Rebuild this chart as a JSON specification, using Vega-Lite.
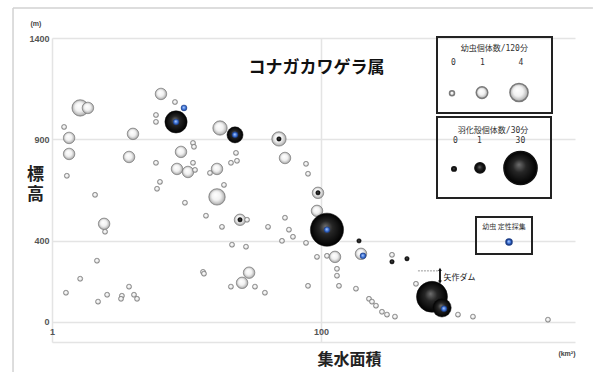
{
  "$schema": "https://vega.github.io/schema/vega-lite/v6.json",
  "width": 523,
  "height": 304,
  "autosize": "none",
  "padding": {"left": 52, "top": 38, "right": 18, "bottom": 30},
  "background": "#ffffff",
  "title": {
    "text": "コナガカワゲラ属",
    "frame": "group",
    "anchor": "middle",
    "offset": -70,
    "dx": 3,
    "font": "Noto Sans CJK JP",
    "fontSize": 17,
    "fontWeight": "bold",
    "color": "#111111"
  },
  "config": {
    "view": {"stroke": null},
    "axis": {
      "labelFont": "Liberation Sans",
      "labelFontSize": 9,
      "labelFontWeight": "bold",
      "labelColor": "#555555",
      "gridColor": "#e4e4e4",
      "gridWidth": 1.5,
      "ticks": false,
      "titleFont": "Noto Sans CJK JP",
      "titleFontWeight": "bold",
      "titleColor": "#222222"
    },
    "legend": {
      "titleFont": "DejaVu Sans Mono, Noto Sans CJK JP",
      "titleFontSize": 8,
      "titleFontWeight": "normal",
      "titleColor": "#333333",
      "titleAnchor": "start",
      "titleAlign": "left",
      "labelOffset": 0,
      "strokeColor": "#222222",
      "strokeWidth": 2
    }
  },
  "datasets": {
    "frame": [
      {"a": 0.513, "a2": 10520, "e": 1548, "e2": 1548},
      {"a": 0.513, "a2": 0.513, "e": 1548, "e2": -250}
    ],
    "larvae": [
      {"a": 1.62, "e": 1055, "n": 3},
      {"a": 1.85, "e": 1055, "n": 1},
      {"a": 6.46, "e": 1124, "n": 1},
      {"a": 8.21, "e": 1084, "n": 0},
      {"a": 5.93, "e": 1020, "n": 0},
      {"a": 5.93, "e": 986, "n": 0},
      {"a": 1.23, "e": 961, "n": 0},
      {"a": 1.34, "e": 907, "n": 1},
      {"a": 4.0, "e": 927, "n": 1},
      {"a": 17.75, "e": 956, "n": 2},
      {"a": 11.18, "e": 882, "n": 0},
      {"a": 11.37, "e": 863, "n": 0},
      {"a": 9.1, "e": 838, "n": 1},
      {"a": 1.34, "e": 828, "n": 1},
      {"a": 3.74, "e": 813, "n": 1},
      {"a": 5.93, "e": 784, "n": 0},
      {"a": 11.18, "e": 784, "n": 0},
      {"a": 8.5, "e": 754, "n": 1},
      {"a": 10.26, "e": 739, "n": 1},
      {"a": 11.57, "e": 749, "n": 0},
      {"a": 16.86, "e": 754, "n": 1},
      {"a": 14.95, "e": 734, "n": 0},
      {"a": 1.29, "e": 720, "n": 0},
      {"a": 6.35, "e": 690, "n": 0},
      {"a": 19.0, "e": 675, "n": 0},
      {"a": 6.04, "e": 656, "n": 0},
      {"a": 2.09, "e": 626, "n": 0},
      {"a": 16.86, "e": 616, "n": 3},
      {"a": 23.34, "e": 833, "n": 0},
      {"a": 21.42, "e": 784, "n": 0},
      {"a": 23.74, "e": 794, "n": 0},
      {"a": 48.7, "e": 902, "n": 2},
      {"a": 54.0, "e": 808, "n": 1},
      {"a": 77.4, "e": 779, "n": 0},
      {"a": 80.1, "e": 730, "n": 0},
      {"a": 95.0, "e": 636, "n": 1},
      {"a": 9.74, "e": 587, "n": 0},
      {"a": 13.96, "e": 523, "n": 0},
      {"a": 18.36, "e": 468, "n": 0},
      {"a": 2.44, "e": 483, "n": 1},
      {"a": 2.48, "e": 444, "n": 0},
      {"a": 2.16, "e": 301, "n": 0},
      {"a": 1.62, "e": 212, "n": 0},
      {"a": 1.27, "e": 143, "n": 0},
      {"a": 2.2, "e": 99, "n": 0},
      {"a": 2.57, "e": 133, "n": 0},
      {"a": 3.74, "e": 173, "n": 0},
      {"a": 3.31, "e": 128, "n": 0},
      {"a": 3.26, "e": 113, "n": 0},
      {"a": 4.07, "e": 133, "n": 0},
      {"a": 4.29, "e": 113, "n": 0},
      {"a": 13.27, "e": 246, "n": 0},
      {"a": 13.49, "e": 237, "n": 0},
      {"a": 25.0, "e": 503, "n": 1},
      {"a": 28.2, "e": 503, "n": 0},
      {"a": 40.4, "e": 468, "n": 0},
      {"a": 54.0, "e": 513, "n": 0},
      {"a": 57.8, "e": 454, "n": 0},
      {"a": 61.9, "e": 419, "n": 0},
      {"a": 51.3, "e": 399, "n": 0},
      {"a": 77.4, "e": 389, "n": 0},
      {"a": 21.8, "e": 380, "n": 0},
      {"a": 27.7, "e": 370, "n": 0},
      {"a": 29.2, "e": 242, "n": 1},
      {"a": 25.9, "e": 192, "n": 1},
      {"a": 21.4, "e": 173, "n": 0},
      {"a": 32.3, "e": 173, "n": 0},
      {"a": 38.3, "e": 143, "n": 0},
      {"a": 93.4, "e": 547, "n": 1},
      {"a": 93.4, "e": 320, "n": 0},
      {"a": 110.8, "e": 325, "n": 0},
      {"a": 127.1, "e": 320, "n": 1},
      {"a": 131.5, "e": 261, "n": 0},
      {"a": 131.5, "e": 227, "n": 0},
      {"a": 198.4, "e": 335, "n": 1},
      {"a": 337.3, "e": 330, "n": 0},
      {"a": 80.1, "e": 177, "n": 0},
      {"a": 136.1, "e": 177, "n": 0},
      {"a": 182.0, "e": 163, "n": 0},
      {"a": 227.5, "e": 113, "n": 0},
      {"a": 239.4, "e": 99, "n": 0},
      {"a": 256.4, "e": 79, "n": 0},
      {"a": 284.1, "e": 49, "n": 0},
      {"a": 309.6, "e": 35, "n": 0},
      {"a": 354.9, "e": 25, "n": 0},
      {"a": 508.5, "e": 187, "n": 0},
      {"a": 1044, "e": 35, "n": 0},
      {"a": 1349, "e": 25, "n": 0},
      {"a": 4872, "e": 10, "n": 0}
    ],
    "exuviae": [
      {"a": 8.36, "e": 986, "n": 10},
      {"a": 22.95, "e": 922, "n": 4},
      {"a": 110.8, "e": 454, "n": 30},
      {"a": 668.9, "e": 123, "n": 25},
      {"a": 793.6, "e": 69, "n": 6},
      {"a": 48.7, "e": 902, "n": 0},
      {"a": 95.0, "e": 636, "n": 0},
      {"a": 25.0, "e": 503, "n": 0},
      {"a": 191.7, "e": 399, "n": 0},
      {"a": 337.3, "e": 296, "n": 0},
      {"a": 435.9, "e": 311, "n": 0}
    ],
    "qualitative": [
      {"a": 9.58, "e": 1055, "kind": "幼虫 定性採集"},
      {"a": 8.36, "e": 986, "kind": "幼虫 定性採集"},
      {"a": 22.95, "e": 922, "kind": "幼虫 定性採集"},
      {"a": 110.8, "e": 454, "kind": "幼虫 定性採集"},
      {"a": 205.3, "e": 325, "kind": "幼虫 定性採集"},
      {"a": 821.3, "e": 64, "kind": "幼虫 定性採集"}
    ],
    "units": [
      {"t": "(m)", "a": 0.76, "e": 1469},
      {"t": "(km²)", "a": 6745, "e": -158}
    ],
    "dam": [
      {"a": 526, "a2": 767, "e": 251}
    ],
    "damArrow": [
      {"a": 767, "e": 256, "e2": 196, "head": "top", "he": 258},
      {"a": 767, "e": 256, "e2": 196, "head": "bottom", "he": 196}
    ],
    "damLabel": [
      {"t": "矢作ダム", "a": 815, "e": 217}
    ]
  },
  "layer": [
    {
      "data": {"name": "frame"},
      "mark": {"type": "rule", "color": "#d2d2d2", "strokeWidth": 1.5},
      "encoding": {
        "x": {
          "field": "a",
          "type": "quantitative",
          "scale": {"type": "log", "domain": [1, 7740], "nice": false},
          "axis": {
            "values": [1, 100],
            "format": "d",
            "grid": true,
            "domain": true,
            "domainColor": "#e4e4e4",
            "domainWidth": 1.5,
            "labelPadding": -15,
            "labelFlush": false,
            "title": "集水面積",
            "titleFontSize": 16,
            "titleX": 297,
            "titleY": 17,
            "titleAlign": "center",
            "titleBaseline": "middle"
          }
        },
        "x2": {"field": "a2"},
        "y": {
          "field": "e",
          "type": "quantitative",
          "scale": {"domain": [-100, 1400], "nice": false, "zero": false},
          "axis": {
            "values": [0, 400, 900, 1400],
            "format": "d",
            "grid": true,
            "domain": false,
            "labelPadding": 3,
            "title": ["標", "高"],
            "titleAngle": 0,
            "titleFontSize": 17,
            "titleLineHeight": 20,
            "titleX": -17,
            "titleY": 136,
            "titleAlign": "center",
            "titleBaseline": "middle"
          }
        },
        "y2": {"field": "e2"}
      }
    },
    {
      "data": {"name": "dam"},
      "mark": {"type": "rule", "color": "#9a9a9a", "strokeWidth": 1, "strokeDash": [2, 1]},
      "encoding": {
        "x": {"field": "a", "type": "quantitative"},
        "x2": {"field": "a2"},
        "y": {"field": "e", "type": "quantitative"}
      }
    },
    {
      "data": {"name": "damArrow"},
      "mark": {"type": "rule", "color": "#111111", "strokeWidth": 1.5},
      "encoding": {
        "x": {"field": "a", "type": "quantitative"},
        "y": {"field": "e", "type": "quantitative"},
        "y2": {"field": "e2"}
      }
    },
    {
      "data": {"name": "damArrow"},
      "mark": {"type": "point", "filled": true, "opacity": 1, "color": "#111111", "size": 14},
      "encoding": {
        "x": {"field": "a", "type": "quantitative"},
        "y": {"field": "he", "type": "quantitative"},
        "shape": {"field": "head", "type": "nominal", "scale": {"domain": ["top", "bottom"], "range": ["triangle-up", "triangle-down"]}, "legend": null}
      }
    },
    {
      "data": {"name": "larvae"},
      "mark": {
        "type": "circle",
        "opacity": 1,
        "stroke": "#7a7a7a",
        "strokeWidth": 0.7,
        "fill": {
          "gradient": "radial",
          "x1": 0.4, "y1": 0.35, "r1": 0,
          "x2": 0.5, "y2": 0.5, "r2": 0.5,
          "stops": [
            {"offset": 0, "color": "#ffffff"},
            {"offset": 0.55, "color": "#f1f1f1"},
            {"offset": 0.88, "color": "#bdbdbd"},
            {"offset": 1, "color": "#8c8c8c"}
          ]
        }
      },
      "encoding": {
        "x": {"field": "a", "type": "quantitative"},
        "y": {"field": "e", "type": "quantitative"},
        "size": {
          "field": "n",
          "type": "quantitative",
          "scale": {"type": "pow", "exponent": 0.75, "domain": [0, 4], "range": [25, 330]},
          "legend": {
            "orient": "none",
            "legendX": 385,
            "legendY": -1,
            "direction": "horizontal",
            "title": ["\u2800\u00a0\u00a0幼虫個体数/120分", "\u28000\u00a0\u00a0\u00a0\u00a0\u00a01\u00a0\u00a0\u00a0\u00a0\u00a0\u00a0\u00a04\u00a0\u00a0\u00a0\u2800"],
            "titleLineHeight": 14,
            "values": [0, 1, 4],
            "labelExpr": "''",
            "padding": 8,
            "titlePadding": 15,
            "columnPadding": 15,
            "symbolOffset": 2
          }
        }
      }
    },
    {
      "data": {"name": "exuviae"},
      "mark": {
        "type": "circle",
        "opacity": 1,
        "stroke": "#111111",
        "strokeWidth": 0.5,
        "fill": {
          "gradient": "radial",
          "x1": 0.45, "y1": 0.4, "r1": 0,
          "x2": 0.5, "y2": 0.5, "r2": 0.5,
          "stops": [
            {"offset": 0, "color": "#6e6e6e"},
            {"offset": 0.4, "color": "#262626"},
            {"offset": 1, "color": "#000000"}
          ]
        }
      },
      "encoding": {
        "x": {"field": "a", "type": "quantitative"},
        "y": {"field": "e", "type": "quantitative"},
        "size": {
          "field": "n",
          "type": "quantitative",
          "scale": {"type": "pow", "exponent": 0.75, "domain": [0, 30], "range": [20, 1100]},
          "legend": {
            "orient": "none",
            "legendX": 385,
            "legendY": 79,
            "direction": "horizontal",
            "title": ["\u2800\u00a0羽化殻個体数/30分", "\u28000\u00a0\u00a0\u00a0\u00a01\u00a0\u00a0\u00a0\u00a0\u00a0\u00a0\u00a030\u00a0\u00a0\u2800"],
            "titleLineHeight": 10,
            "values": [0, 1, 30],
            "labelExpr": "''",
            "padding": 10,
            "titlePadding": 5,
            "columnPadding": 11,
            "symbolOffset": 2
          }
        }
      }
    },
    {
      "data": {"name": "qualitative"},
      "mark": {
        "type": "point",
        "filled": true,
        "opacity": 1,
        "size": 36,
        "stroke": "#1d3f8a",
        "strokeWidth": 0.4,
        "fill": {
          "gradient": "radial",
          "x1": 0.45, "y1": 0.4, "r1": 0,
          "x2": 0.5, "y2": 0.5, "r2": 0.5,
          "stops": [
            {"offset": 0, "color": "#b0ccff"},
            {"offset": 0.6, "color": "#3f74d6"},
            {"offset": 1, "color": "#1d3f8a"}
          ]
        }
      },
      "encoding": {
        "x": {"field": "a", "type": "quantitative"},
        "y": {"field": "e", "type": "quantitative"},
        "shape": {
          "field": "kind",
          "type": "nominal",
          "scale": {"range": ["circle"]},
          "legend": {
            "orient": "none",
            "legendX": 424,
            "legendY": 179,
            "title": "幼虫 定性採集",
            "titleFont": "Noto Sans CJK JP",
            "titleFontSize": 7,
            "titleAnchor": "middle",
            "titleAlign": "center",
            "labelExpr": "''",
            "symbolSize": 36,
            "symbolOffset": 11,
            "padding": 6,
            "titlePadding": 7
          }
        }
      }
    },
    {
      "data": {"name": "units"},
      "mark": {"type": "text", "font": "Liberation Sans", "fontSize": 7, "fontWeight": "bold", "color": "#444444"},
      "encoding": {
        "x": {"field": "a", "type": "quantitative"},
        "y": {"field": "e", "type": "quantitative"},
        "text": {"field": "t"}
      }
    },
    {
      "data": {"name": "damLabel"},
      "mark": {"type": "text", "font": "Noto Sans CJK JP", "fontSize": 8, "align": "left", "color": "#222222"},
      "encoding": {
        "x": {"field": "a", "type": "quantitative"},
        "y": {"field": "e", "type": "quantitative"},
        "text": {"field": "t"}
      }
    }
  ],
  "resolve": {"scale": {"size": "independent", "shape": "independent"}}
}
